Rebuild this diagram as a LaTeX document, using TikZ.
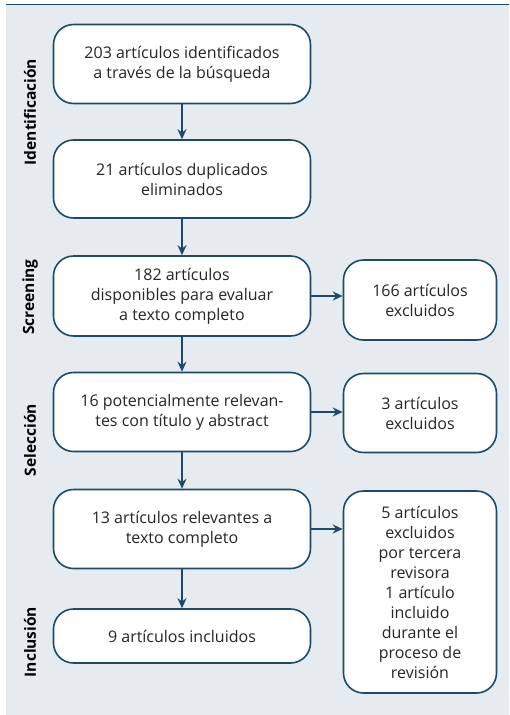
\documentclass[tikz,border=0pt]{standalone}
\usepackage{fontspec}
\setmainfont{Open Sans}
\usetikzlibrary{arrows.meta}
\definecolor{navy}{HTML}{1B4A6B}
\definecolor{panel}{HTML}{E5EBEE}
\tikzset{
  box/.style={draw=navy, line width=1.6pt, fill=white, rounded corners=20pt,
    align=center, font=\fontsize{16}{20}\selectfont\color{black!85}, inner sep=2pt},
  phase/.style={rotate=90, font=\fontsize{15.5}{18}\selectfont\bfseries},
  arr/.style={navy, line width=1.6pt, -{Stealth[length=10pt,width=9pt]}}
}
\begin{document}
\begin{tikzpicture}[x=1pt,y=-1pt]
    \useasboundingbox (0,0) rectangle (509,715);
    \fill[panel] (6,5) rectangle (509,715);
    \draw[navy, line width=1pt] (6,4.5) -- (509,4.5);
    % fases
    \node[phase] (p) at (30, 112) {Identificación};
    \node[phase] (q) at (30, 297) {Screening};
    \node[phase] (r) at (30, 440) {Selección};
    \node[phase] (s) at (30, 642) {Inclusión};
    % columna principal
    \node[box, minimum width=257pt, minimum height=79pt] (a) at (182, 64) {203 artículos identificados\\a través de la búsqueda};
    \node[box, minimum width=257pt, minimum height=78pt] (b) at (182, 179) {21 artículos duplicados\\eliminados};
    \node[box, minimum width=257pt, minimum height=80pt] (c) at (182, 296) {182 artículos\\disponibles para evaluar\\a texto completo};
    \node[box, minimum width=257pt, minimum height=79pt] (d) at (182, 412) {16 potencialmente relevan-\\tes con título y abstract};
    \node[box, minimum width=257pt, minimum height=79pt] (e) at (182, 529) {13 artículos relevantes a\\texto completo};
    \node[box, minimum width=257pt, minimum height=54pt] (f) at (182, 636) {9 artículos incluidos};
    % excluidos
    \node[box, minimum width=153pt, minimum height=80pt] (g) at (420, 300) {166 artículos\\excluidos};
    \node[box, minimum width=153pt, minimum height=79pt] (h) at (420, 413) {3 artículos\\excluidos};
    \node[box, minimum width=153pt, minimum height=202pt] (i) at (420, 592) {5 artículos\\excluidos\\por tercera\\revisora\\1 artículo\\incluido\\durante el\\proceso de\\revisión};
    \draw [arr] (a) to (b);
    \draw [arr] (b) to (c);
    \draw [arr] (c) to (d);
    \draw [arr] (d) to (e);
    \draw [arr] (e) to (f);
    \draw [arr] (c.east) to (c.east -| g.west);
    \draw [arr] (d.east) to (d.east -| h.west);
    \draw [arr] (e.east) to (e.east -| i.west);
  \end{tikzpicture}
\end{document}
